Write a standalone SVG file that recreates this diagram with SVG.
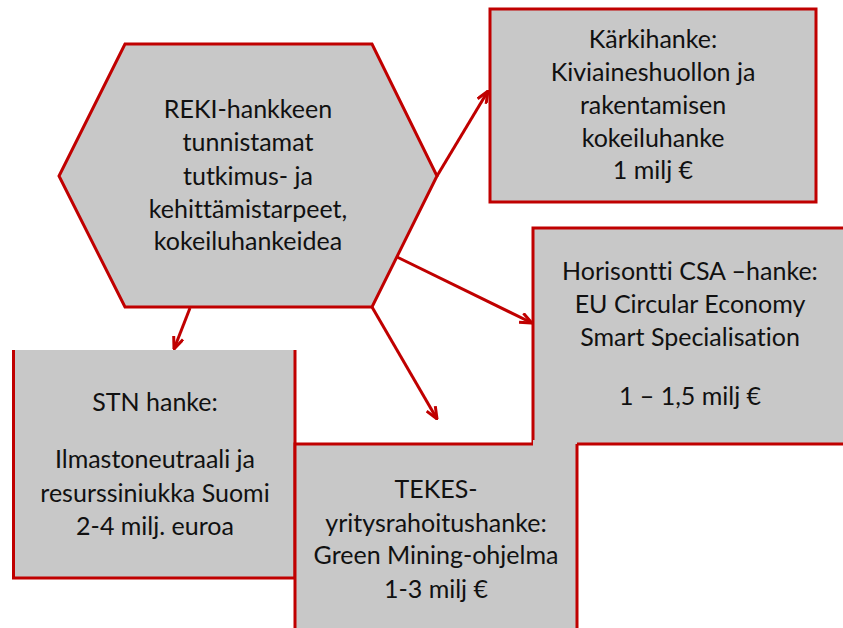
<svg xmlns="http://www.w3.org/2000/svg" width="843" height="628" viewBox="0 0 843 628">
<defs>
<style>
.fill{fill:#c8c8c8;stroke:none}
.bd{fill:none;stroke:#c00000;stroke-width:3}
.t{font-family:Lato,"Liberation Sans",sans-serif;font-size:25px;fill:#111;text-anchor:middle;font-variant-ligatures:none;font-feature-settings:"liga" 0,"clig" 0}
.c{stroke:#c00000;stroke-width:3;fill:none}
</style>
<marker id="ah" viewBox="0 0 14 12" refX="13" refY="6" markerWidth="14" markerHeight="12" markerUnits="userSpaceOnUse" orient="auto">
<path d="M1,1 L13,6 L1,11" fill="none" stroke="#c00000" stroke-width="3"/>
</marker>
</defs>
<rect width="843" height="628" fill="#fff"/>
<g id="stn">
<rect class="fill" x="13" y="350" width="282" height="228"/>
<path class="bd" d="M13.5,350 V578 H295 M295,350 V578"/>
<text class="t" x="155" y="411">STN hanke:</text>
<text class="t" x="155" y="468">Ilmastoneutraali ja</text>
<text class="t" x="155" y="502">resurssiniukka Suomi</text>
<text class="t" x="155" y="535">2-4 milj. euroa</text>
</g>
<g id="horisontti">
<rect class="fill" x="533" y="228" width="312" height="216"/>
<path class="bd" d="M533,444 V228 H845 M577,444 H845"/>
<text class="t" x="690" y="280">Horisontti CSA –hanke:</text>
<text class="t" x="690" y="313">EU Circular Economy</text>
<text class="t" x="690" y="346">Smart Specialisation</text>
<text class="t" x="690" y="405">1 – 1,5 milj €</text>
</g>
<g id="tekes">
<rect class="fill" x="295" y="444" width="282" height="186"/>
<rect class="fill" x="533" y="440" width="44" height="8"/>
<path class="bd" d="M295,630 V444 H533 M577,444 V630"/>
<text class="t" x="436" y="498">TEKES-</text>
<text class="t" x="436" y="532">yritysrahoitushanke:</text>
<text class="t" x="436" y="564">Green Mining-ohjelma</text>
<text class="t" x="436" y="598">1-3 milj €</text>
</g>
<g id="karkihanke">
<rect class="fill" x="490" y="9" width="326" height="193"/>
<rect class="bd" x="490" y="9" width="326" height="193"/>
<text class="t" x="653" y="48">Kärkihanke:</text>
<text class="t" x="653" y="81">Kiviaineshuollon ja</text>
<text class="t" x="653" y="114">rakentamisen</text>
<text class="t" x="653" y="147">kokeiluhanke</text>
<text class="t" x="653" y="179">1 milj €</text>
</g>
<g id="reki">
<polygon class="fill" points="125,44 372,44 437,176 372,307 125,307 59,176"/>
<polygon class="bd" points="125,44 372,44 437,176 372,307 125,307 59,176"/>
<text class="t" x="248" y="118">REKI-hankkeen</text>
<text class="t" x="248" y="151">tunnistamat</text>
<text class="t" x="248" y="185">tutkimus- ja</text>
<text class="t" x="248" y="218">kehittämistarpeet,</text>
<text class="t" x="248" y="250">kokeiluhankeidea</text>
</g>
<g id="connectors">
<line class="c" x1="437" y1="176" x2="488" y2="91" marker-end="url(#ah)"/>
<line class="c" x1="397" y1="257" x2="532" y2="323" marker-end="url(#ah)"/>
<line class="c" x1="372" y1="307" x2="437" y2="419" marker-end="url(#ah)"/>
<line class="c" x1="190" y1="308" x2="174" y2="349" marker-end="url(#ah)"/>
</g>
</svg>
